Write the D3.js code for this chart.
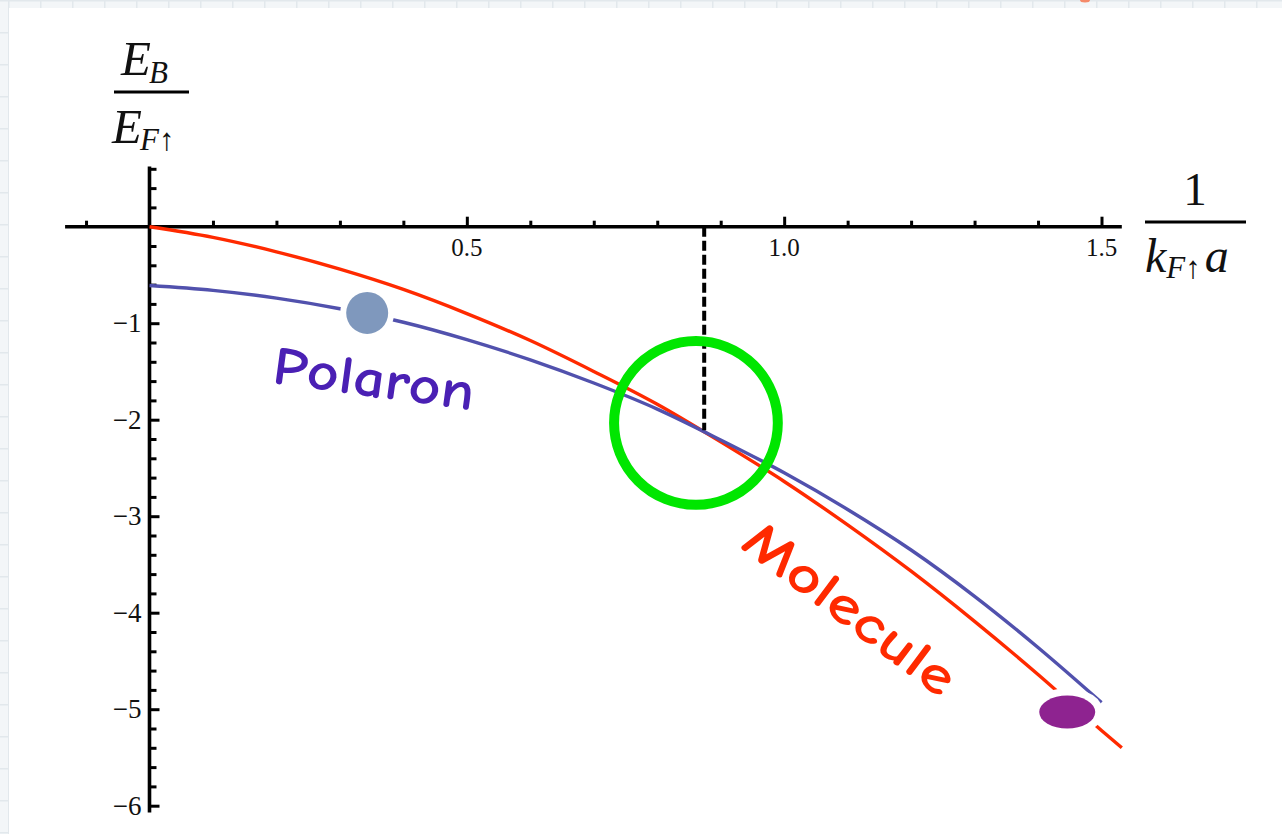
<!DOCTYPE html>
<html>
<head>
<meta charset="utf-8">
<script src="https://cdn.jsdelivr.net/npm/d3@7"></script>
<style>
  html, body { margin: 0; padding: 0; background: #f2f5f7; }
  svg { display: block; }
</style>
</head>
<body>
<svg id="chart" width="1282" height="834"></svg>
<script>
// Inverse coupling 1/(kF a) and binding energy EB/EF for the two branches
const moleculeX = [0, 0.1, 0.2, 0.3, 0.4, 0.5, 0.6, 0.7, 0.8, 0.9, 1.0, 1.1, 1.2, 1.3, 1.4, 1.5, 1.532];
const moleculeY = [0, -0.11, -0.26, -0.44, -0.65, -0.90, -1.18, -1.50, -1.84, -2.23, -2.64, -3.09, -3.57, -4.09, -4.64, -5.22, -5.40];
const polaronX = [0, 0.1, 0.2, 0.3, 0.4, 0.5, 0.6, 0.7, 0.8, 0.9, 1.0, 1.1, 1.2, 1.3, 1.4, 1.5];
const polaronY = [-0.61, -0.66, -0.74, -0.85, -0.99, -1.17, -1.38, -1.62, -1.89, -2.21, -2.55, -2.93, -3.35, -3.83, -4.36, -4.93];

// Axis ticks
const xMajorTicks = [0.5, 1.0, 1.5];
const xMinorTicks = [-0.1, 0.1, 0.2, 0.3, 0.4, 0.6, 0.7, 0.8, 0.9, 1.1, 1.2, 1.3, 1.4];
const xTickLabels = ["0.5", "1.0", "1.5"];
const yMajorTicks = [-1, -2, -3, -4, -5, -6];
const yMinorTicks = [0.6, 0.4, 0.2, -0.2, -0.4, -0.6, -0.8, -1.2, -1.4, -1.6, -1.8, -2.2, -2.4, -2.6, -2.8,
                     -3.2, -3.4, -3.6, -3.8, -4.2, -4.4, -4.6, -4.8, -5.2, -5.4, -5.6, -5.8];
const yTickLabels = ["\u22121", "\u22122", "\u22123", "\u22124", "\u22125", "\u22126"];

// Annotated points: transition point, polaron and molecule markers
const transitionX = [0.874];
const transitionY = [-2.11];
const ringCenter = [0.861, -2.034];
const polaronDot = [0.343, -0.894];
const moleculeDot = [1.446, -5.03];

const SERIF = "'Liberation Serif', 'Times New Roman', 'DejaVu Serif', serif";
const HAND = "'Comic Sans MS', 'Comic Neue', 'Open Sans', sans-serif";

const svg = d3.select("#chart");
const W = 1282, H = 834;

// Backdrop: faint grid paper behind a white sheet
const defs = svg.append("defs");
const pat = defs.append("pattern").attr("id", "grid").attr("width", 32).attr("height", 32)
  .attr("patternUnits", "userSpaceOnUse").attr("x", 8).attr("y", 0);
pat.append("rect").attr("width", 32).attr("height", 32).attr("fill", "#f3f6f8");
pat.append("path").attr("d", "M0 0.5 H32 M0.5 0 V32").attr("stroke", "#e2e8ec").attr("stroke-width", 2).attr("fill", "none");
svg.append("rect").attr("width", W).attr("height", H).attr("fill", "url(#grid)");
svg.append("ellipse").attr("cx", 1085).attr("cy", 0).attr("rx", 5).attr("ry", 2.5).attr("fill", "#f58a6a");
svg.append("rect").attr("x", 9).attr("y", 8).attr("width", W - 9).attr("height", H - 8).attr("fill", "#ffffff");

const x = d3.scaleLinear().domain([0, 1.5]).range([149.5, 1101.5]);
const y = d3.scaleLinear().domain([0, -6]).range([226.7, 805.7]);

// ---- Axes ----
const axisG = svg.append("g");
// x axis line and ticks (ticks point up)
const xAxisMajor = d3.axisTop(x).tickValues(xMajorTicks).tickSize(10).tickFormat("").tickSizeOuter(0);
const xAxisMinor = d3.axisTop(x).tickValues(xMinorTicks).tickSize(6).tickFormat("").tickSizeOuter(0);
const gxMinor = axisG.append("g").attr("transform", `translate(0,${y(0)})`).call(xAxisMinor);
const gxMajor = axisG.append("g").attr("transform", `translate(0,${y(0)})`).call(xAxisMajor);
gxMinor.select(".domain").remove();
gxMajor.select(".domain").remove();
axisG.append("line").attr("x1", x(-0.133)).attr("x2", x(1.532)).attr("y1", y(0)).attr("y2", y(0))
  .attr("stroke", "#000").attr("stroke-width", 3.6);

// y axis line and ticks (ticks point right)
const yAxisMajor = d3.axisRight(y).tickValues(yMajorTicks).tickSize(10).tickFormat("").tickSizeOuter(0);
const yAxisMinor = d3.axisRight(y).tickValues(yMinorTicks).tickSize(7).tickFormat("").tickSizeOuter(0);
const gyMinor = axisG.append("g").attr("transform", `translate(${x(0)},0)`).call(yAxisMinor);
const gyMajor = axisG.append("g").attr("transform", `translate(${x(0)},0)`).call(yAxisMajor);
gyMinor.select(".domain").remove();
gyMajor.select(".domain").remove();
axisG.append("line").attr("x1", x(0)).attr("x2", x(0)).attr("y1", y(0.625)).attr("y2", y(-6.07))
  .attr("stroke", "#000").attr("stroke-width", 3.6);
axisG.selectAll(".tick line").attr("stroke", "#000").attr("stroke-width", 3);

// Tick labels placed from the same scales
const labelG = svg.append("g").attr("fill", "#111");
labelG.selectAll("text.xl").data(xMajorTicks).join("text").attr("class", "xl")
  .attr("x", d => x(d)).attr("y", y(0) + 29).attr("text-anchor", "middle")
  .style("font-family", SERIF).style("font-size", "25px")
  .text((d, i) => xTickLabels[i]);
labelG.selectAll("text.yl").data(yMajorTicks).join("text").attr("class", "yl")
  .attr("x", x(0) - 8).attr("y", d => y(d) + 9).attr("text-anchor", "end")
  .style("font-family", SERIF).style("font-size", "27px").style("word-spacing", "0px")
  .text((d, i) => yTickLabels[i]);

// ---- Axis titles as stacked fractions ----
const yTitle = svg.append("g").style("font-family", SERIF).attr("fill", "#111");
const num = yTitle.append("text").attr("x", 121).attr("y", 75);
num.append("tspan").attr("font-style", "italic").attr("font-size", 49).text("E");
num.append("tspan").attr("font-style", "italic").attr("font-size", 31).attr("dy", 8).attr("dx", -2).text("B");
yTitle.append("line").attr("x1", 114).attr("x2", 189).attr("y1", 92).attr("y2", 92)
  .attr("stroke", "#000").attr("stroke-width", 3);
const den = yTitle.append("text").attr("x", 112).attr("y", 143);
den.append("tspan").attr("font-style", "italic").attr("font-size", 49).text("E");
den.append("tspan").attr("font-style", "italic").attr("font-size", 31).attr("dy", 7).attr("dx", -2).text("F");
den.append("tspan").attr("font-size", 31).text("\u2191");

const xTitle = svg.append("g").style("font-family", SERIF).attr("fill", "#111");
xTitle.append("text").attr("x", 1195).attr("y", 205).attr("text-anchor", "middle").attr("font-size", 47).text("1");
xTitle.append("line").attr("x1", 1145).attr("x2", 1246).attr("y1", 222).attr("y2", 222)
  .attr("stroke", "#000").attr("stroke-width", 3);
const xd = xTitle.append("text").attr("x", 1145).attr("y", 272);
xd.append("tspan").attr("font-style", "italic").attr("font-size", 48).text("k");
xd.append("tspan").attr("font-style", "italic").attr("font-size", 31).attr("dy", 6).text("F");
xd.append("tspan").attr("font-size", 31).text("\u2191");
xd.append("tspan").attr("font-style", "italic").attr("font-size", 48).attr("dy", -6).attr("dx", 4).text("a");

// ---- Curves ----
const line = d3.line().x(d => x(d[0])).y(d => y(d[1])).curve(d3.curveMonotoneX);
const polaron = polaronX.map((v, i) => [v, polaronY[i]]);
const molecule = moleculeX.map((v, i) => [v, moleculeY[i]]);

svg.append("path").datum(molecule).attr("d", line).attr("fill", "none")
  .attr("stroke", "#ff2a00").attr("stroke-width", 3.4);
svg.append("path").datum(polaron).attr("d", line).attr("fill", "none")
  .attr("stroke", "#5151ad").attr("stroke-width", 3.4);

// Dashed drop line at the polaron-molecule transition
svg.append("line").attr("x1", x(transitionX[0])).attr("x2", x(transitionX[0]))
  .attr("y1", y(0)).attr("y2", y(transitionY[0]))
  .attr("stroke", "#000").attr("stroke-width", 4).attr("stroke-dasharray", "10,4");

// Ring around the crossing
svg.append("circle").attr("cx", x(ringCenter[0])).attr("cy", y(ringCenter[1]))
  .attr("r", x(0.129) - x(0)).attr("fill", "none").attr("stroke", "#00e600").attr("stroke-width", 10);

// Markers on each branch, each with a white halo that breaks the curve
svg.append("circle").attr("cx", x(polaronDot[0])).attr("cy", y(polaronDot[1])).attr("r", 27).attr("fill", "#fff");
svg.append("circle").attr("cx", x(polaronDot[0])).attr("cy", y(polaronDot[1])).attr("r", 21).attr("fill", "#7f98bd");
svg.append("ellipse").attr("cx", x(moleculeDot[0])).attr("cy", y(moleculeDot[1])).attr("rx", 36).attr("ry", 24).attr("fill", "#fff");
svg.append("ellipse").attr("cx", x(moleculeDot[0])).attr("cy", y(moleculeDot[1])).attr("rx", 28).attr("ry", 16.5).attr("fill", "#8e2390");

// ---- Branch labels ----
svg.append("text").attr("transform", "translate(271,383) rotate(7.7)").style("font-family", HAND)
  .attr("font-size", 54).attr("font-weight", 600).attr("fill", "#4a20b4")
  .attr("textLength", 203).attr("lengthAdjust", "spacingAndGlyphs").text("Polaron");
svg.append("text").attr("transform", "translate(739,547) rotate(37)").style("font-family", HAND)
  .attr("font-size", 54).attr("font-weight", 600).attr("fill", "#ff2a00")
  .attr("textLength", 252).attr("lengthAdjust", "spacingAndGlyphs").text("Molecule");
</script>
</body>
</html>
